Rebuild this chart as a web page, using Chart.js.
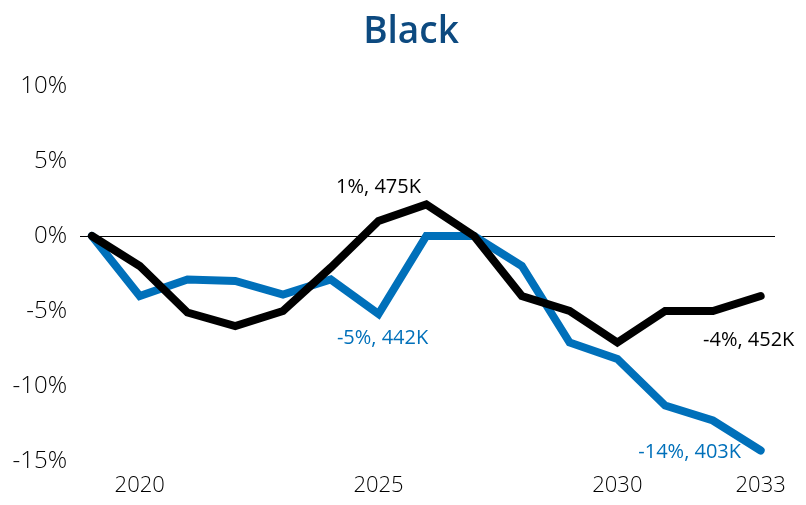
<!DOCTYPE html>
<html>
<head>
<meta charset="utf-8">
<script src="https://cdn.jsdelivr.net/npm/chart.js@4/dist/chart.umd.min.js"></script>
<style>
  html, body { margin: 0; padding: 0; background: #fff; }
  #wrap { width: 806px; height: 505px; }
</style>
</head>
<body>
<div id="wrap"><canvas id="c" width="806" height="505"></canvas></div>
<script>
const chartTitle = 'Black';
const years = [2019, 2020, 2021, 2022, 2023, 2024, 2025, 2026, 2027, 2028, 2029, 2030, 2031, 2032, 2033];
const blackSeries = [0, -2.0, -5.1, -6.0, -5.0, -2.1, 1.0, 2.1, 0, -4.0, -5.0, -7.1, -5.0, -5.0, -4.0];
const blueSeries  = [0, -4.0, -2.9, -3.0, -3.9, -2.9, -5.2, 0, 0, -2.0, -7.1, -8.2, -11.3, -12.3, -14.3];
const xTickYears = [2020, 2025, 2030, 2033];
const yTickValues = [-15, -10, -5, 0, 5, 10];
const annotations = [
  { text: '1%, 475K', year: 2025, value: 1.0, color: '#000000', dx: 0, dy: -34 },
  { text: '-5%, 442K', year: 2025, value: -5.2, color: '#0070BA', dx: 4, dy: 24 },
  { text: '-4%, 452K', year: 2033, value: -4.0, color: '#000000', dx: -12, dy: 44 },
  { text: '-14%, 403K', year: 2033, value: -14.3, color: '#0070BA', dx: -71, dy: 2 }
];

const toXY = (arr) => years.map((y, i) => ({ x: y, y: arr[i] }));

const labelPlugin = {
  id: 'labels',
  afterDatasetsDraw(chart) {
    const ctx = chart.ctx;
    const xs = chart.scales.x, ys = chart.scales.y;
    ctx.save();
    ctx.font = '20px "Open Sans"';
    ctx.textAlign = 'center';
    ctx.textBaseline = 'middle';
    annotations.forEach(a => {
      ctx.fillStyle = a.color;
      ctx.fillText(a.text, xs.getPixelForValue(a.year) + a.dx, ys.getPixelForValue(a.value) + a.dy);
    });
    ctx.font = '600 37px "Open Sans"';
    ctx.fillStyle = '#0D4A80';
    ctx.textBaseline = 'alphabetic';
    ctx.fillText(chartTitle, 411, 43);
    ctx.restore();
  }
};

new Chart(document.getElementById('c'), {
  type: 'line',
  data: {
    datasets: [
      { label: 'Black', data: toXY(blackSeries), borderColor: '#000000', borderWidth: 8, pointRadius: 0, tension: 0, borderCapStyle: 'round', borderJoinStyle: 'miter' },
      { label: 'Blue', data: toXY(blueSeries), borderColor: '#0070BA', borderWidth: 8, pointRadius: 0, tension: 0, borderCapStyle: 'round', borderJoinStyle: 'miter' }
    ]
  },
  options: {
    responsive: false,
    animation: false,
    devicePixelRatio: 1,
    layout: { padding: { left: 0, right: 31, top: 86, bottom: 0 } },
    plugins: {
      legend: { display: false },
      tooltip: { enabled: false },
      title: { display: false }
    },
    scales: {
      x: {
        type: 'linear',
        min: 2018.75,
        max: 2033.3,
        afterBuildTicks(scale) { scale.ticks = xTickYears.map(v => ({ value: v })); },
        afterFit(scale) { scale.height = 44; },
        grid: { display: false, drawTicks: false },
        border: { display: false },
        ticks: { color: '#000', font: { family: '"Open Sans"', size: 22, weight: '300' }, padding: 12, maxRotation: 0, autoSkip: false, callback: v => String(v) }
      },
      y: {
        min: -15,
        max: 10,
        afterBuildTicks(scale) { scale.ticks = yTickValues.map(v => ({ value: v })); },
        afterFit(scale) { scale.width = 80; },
        grid: {
          drawTicks: false,
          color: ctx => (ctx.tick && ctx.tick.value === 0) ? '#000000' : 'rgba(0,0,0,0)',
          lineWidth: 1
        },
        border: { display: false },
        ticks: { color: '#000', font: { family: '"Open Sans"', size: 24, weight: '300' }, padding: 13, callback: v => v + '%' }
      }
    }
  },
  plugins: [labelPlugin]
});
</script>
</body>
</html>
